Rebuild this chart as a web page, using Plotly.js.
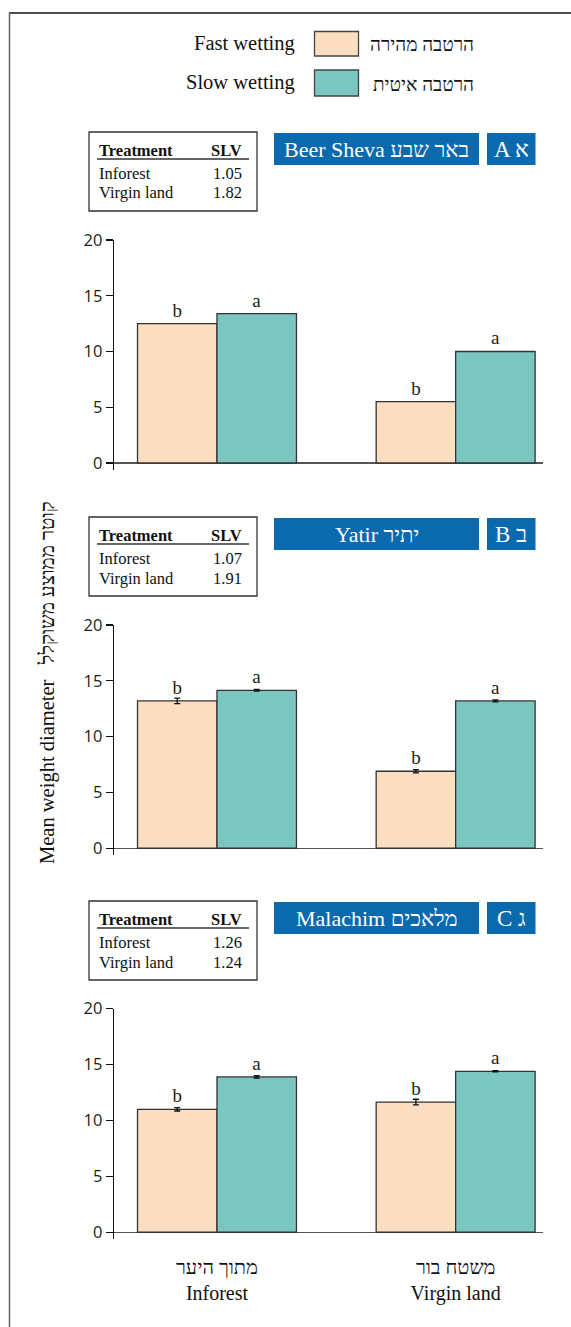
<!DOCTYPE html>
<html>
<head>
<meta charset="utf-8">
<script src="https://cdn.plot.ly/plotly-3.0.1.min.js"></script>
<style>
  html, body { margin: 0; padding: 0; background: #ffffff; }
  #chart { width: 571px; height: 1327px; }
</style>
</head>
<body>
<div id="chart"></div>
<script>
// Mean weight diameter of soil aggregates after fast and slow wetting
const groupsEn = ['Inforest', 'Virgin land'];
const groupsHe = ['מתוך היער', 'משטח בור'];

const sitesEn = ['Beer Sheva', 'Yatir', 'Malachim'];
const sitesHe = ['באר שבע', 'יתיר', 'מלאכים'];
const panelEn = ['A', 'B', 'C'];
const panelHe = ['א', 'ב', 'ג'];

// fast wetting (per site: [Inforest, Virgin land])
const fastMWD = [[12.5, 5.5], [13.2, 6.9], [11.0, 11.65]];
const fastErr = [null, [0.25, 0.15], [0.15, 0.25]];
const fastLetters = [['b', 'b'], ['b', 'b'], ['b', 'b']];

// slow wetting
const slowMWD = [[13.4, 10.0], [14.15, 13.2], [13.9, 14.4]];
const slowErr = [null, [0.08, 0.08], [0.1, 0.05]];
const slowLetters = [['a', 'a'], ['a', 'a'], ['a', 'a']];

// stability index per site
const slvInforest = ['1.05', '1.07', '1.26'];
const slvVirgin = ['1.82', '1.91', '1.24'];

const legendEn = ['Fast wetting', 'Slow wetting'];
const legendHe = ['הרטבה מהירה', 'הרטבה איטית'];
const yTitleEn = 'Mean weight diameter';
const yTitleHe = 'קוטר ממוצע משוקלל';
const yTicks = [0, 5, 10, 15, 20];

const fastColor = '#fbdec0';
const slowColor = '#7cc6c2';
const barLine = '#333333';
const headerBlue = '#0a6aad';
const SERIF = '"Liberation Serif", "DejaVu Serif", serif';
const SANS = '"Open Sans", "Noto Sans", sans-serif';

const W = 571, H = 1327;
const px = x => x / W;
const py = y => 1 - y / H;

// vertical placement of each panel (page pixels)
const panelTop = [132, 517, 901];        // top of the info table / headers
const axisTop = [240, 625, 1008.7];       // y = 20
const axisBottom = [470, 855.3, 1239.3];  // slightly below y = 0

const traces = [];
const layout = {
  width: W, height: H, autosize: false,
  margin: {l: 0, r: 0, t: 0, b: 0},
  paper_bgcolor: '#ffffff', plot_bgcolor: 'rgba(0,0,0,0)',
  barmode: 'group', bargap: 0.334, bargroupgap: 0,
  showlegend: false,
  shapes: [], annotations: []
};

for (let i = 0; i < 3; i++) {
  const sfx = i === 0 ? '' : String(i + 1);
  const xa = 'x' + sfx, ya = 'y' + sfx;
  traces.push({
    type: 'bar', x: groupsEn, y: fastMWD[i], xaxis: xa, yaxis: ya,
    name: legendEn[0], marker: {color: fastColor, line: {color: barLine, width: 1.3}},
    text: fastLetters[i], textposition: 'outside', cliponaxis: false,
    textfont: {family: SERIF, size: 19, color: '#222'},
    error_y: fastErr[i] ? {type: 'data', array: fastErr[i], visible: true, color: '#111', thickness: 1.3, width: 3} : {visible: false},
    hoverinfo: 'skip'
  });
  traces.push({
    type: 'bar', x: groupsEn, y: slowMWD[i], xaxis: xa, yaxis: ya,
    name: legendEn[1], marker: {color: slowColor, line: {color: barLine, width: 1.3}},
    text: slowLetters[i], textposition: 'outside', cliponaxis: false,
    textfont: {family: SERIF, size: 19, color: '#222'},
    error_y: slowErr[i] ? {type: 'data', array: slowErr[i], visible: true, color: '#111', thickness: 1.3, width: 3} : {visible: false},
    hoverinfo: 'skip'
  });

  const last = i === 2;
  layout['xaxis' + sfx] = {
    domain: [px(114), px(543)], anchor: ya,
    type: 'category', categoryorder: 'array', categoryarray: groupsEn,
    range: [-0.4315, 1.366],
    showline: false, showgrid: false, zeroline: false, ticks: '',
    showticklabels: last,
    tickmode: 'array', tickvals: groupsEn,
    ticktext: groupsEn.map((g, k) => groupsHe[k] + '<br>' + g),
    tickfont: {family: SERIF, size: 20, color: '#111'},
    ticklabelstandoff: 14,
    fixedrange: true
  };
  layout['yaxis' + sfx] = {
    domain: [py(axisBottom[i]), py(axisTop[i])], anchor: xa,
    range: [-0.63, 20],
    tickmode: 'array', tickvals: yTicks,
    showline: true, linecolor: '#111', linewidth: 1.3,
    ticks: 'outside', ticklen: 7, tickwidth: 1.2, tickcolor: '#111',
    tickfont: {family: SANS, size: 16.5, color: '#222'},
    showgrid: false,
    zeroline: true, zerolinecolor: '#555', zerolinewidth: 1.5,
    fixedrange: true
  };

  // info table
  const t = panelTop[i];
  layout.shapes.push({type: 'rect', xref: 'paper', yref: 'paper',
    x0: px(89), x1: px(257), y0: py(t), y1: py(t + 79),
    line: {color: '#333', width: 1.3}, fillcolor: 'rgba(0,0,0,0)'});
  layout.shapes.push({type: 'line', xref: 'paper', yref: 'paper',
    x0: px(97), x1: px(249), y0: py(t + 27), y1: py(t + 27),
    line: {color: '#333', width: 1.3}});
  const rowText = [
    [['Treatment', 'SLV'], 18, true],
    [[groupsEn[0], slvInforest[i]], 41, false],
    [[groupsEn[1], slvVirgin[i]], 61, false]
  ];
  rowText.forEach(([cells, dy, bold]) => {
    const f = {family: SERIF, size: 16.5, color: '#111'};
    layout.annotations.push({xref: 'paper', yref: 'paper', x: px(97), y: py(t + dy),
      xanchor: 'left', yanchor: 'middle', showarrow: false,
      text: bold ? '<b>' + cells[0] + '</b>' : cells[0], font: f});
    layout.annotations.push({xref: 'paper', yref: 'paper', x: px(244), y: py(t + dy),
      xanchor: 'right', yanchor: 'middle', showarrow: false,
      text: bold ? '<b>' + cells[1] + '</b>' : cells[1], font: f});
  });

  // site header boxes
  layout.shapes.push({type: 'rect', xref: 'paper', yref: 'paper',
    x0: px(274), x1: px(479), y0: py(t + 1), y1: py(t + 33),
    line: {width: 0}, fillcolor: headerBlue});
  layout.shapes.push({type: 'rect', xref: 'paper', yref: 'paper',
    x0: px(487), x1: px(535.5), y0: py(t + 1), y1: py(t + 33),
    line: {width: 0}, fillcolor: headerBlue});
  layout.annotations.push({xref: 'paper', yref: 'paper', x: px(376.5), y: py(t + 17),
    xanchor: 'center', yanchor: 'middle', showarrow: false,
    text: sitesEn[i] + ' ' + sitesHe[i],
    font: {family: SERIF, size: 22, color: '#ffffff'}});
  layout.annotations.push({xref: 'paper', yref: 'paper', x: px(511), y: py(t + 17),
    xanchor: 'center', yanchor: 'middle', showarrow: false,
    text: panelEn[i] + ' ' + panelHe[i],
    font: {family: SERIF, size: 23, color: '#ffffff'}});
}

// legend
const legendColors = [fastColor, slowColor];
const legendRows = [[31.5, 56], [70, 96]];
legendRows.forEach(([y0, y1], k) => {
  const yc = (y0 + y1) / 2;
  layout.shapes.push({type: 'rect', xref: 'paper', yref: 'paper',
    x0: px(314.5), x1: px(358.5), y0: py(y0), y1: py(y1),
    line: {color: '#444', width: 1.3}, fillcolor: legendColors[k]});
  layout.annotations.push({xref: 'paper', yref: 'paper', x: px(297), y: py(yc),
    xanchor: 'right', yanchor: 'middle', showarrow: false,
    text: legendEn[k], font: {family: SERIF, size: 20.5, color: '#111'}});
  layout.annotations.push({xref: 'paper', yref: 'paper', x: px(476), y: py(yc + 1),
    xanchor: 'right', yanchor: 'middle', showarrow: false,
    text: legendHe[k], font: {family: SERIF, size: 19, color: '#111'}});
});

// shared y title
layout.annotations.push({xref: 'paper', yref: 'paper', x: px(47), y: py(683),
  xanchor: 'center', yanchor: 'middle', showarrow: false, textangle: -90,
  text: yTitleEn + '\u00a0\u00a0\u00a0' + yTitleHe,
  font: {family: SERIF, size: 20.5, color: '#111'}});

// outer frame (top and left edges)
layout.shapes.push({type: 'line', xref: 'paper', yref: 'paper',
  x0: px(9), x1: 1, y0: py(13), y1: py(13), line: {color: '#111', width: 1.5}});
layout.shapes.push({type: 'line', xref: 'paper', yref: 'paper',
  x0: px(9.5), x1: px(9.5), y0: py(12.5), y1: 0, line: {color: '#666', width: 1.5}});

Plotly.newPlot('chart', traces, layout, {staticPlot: true, displayModeBar: false});
</script>
</body>
</html>
